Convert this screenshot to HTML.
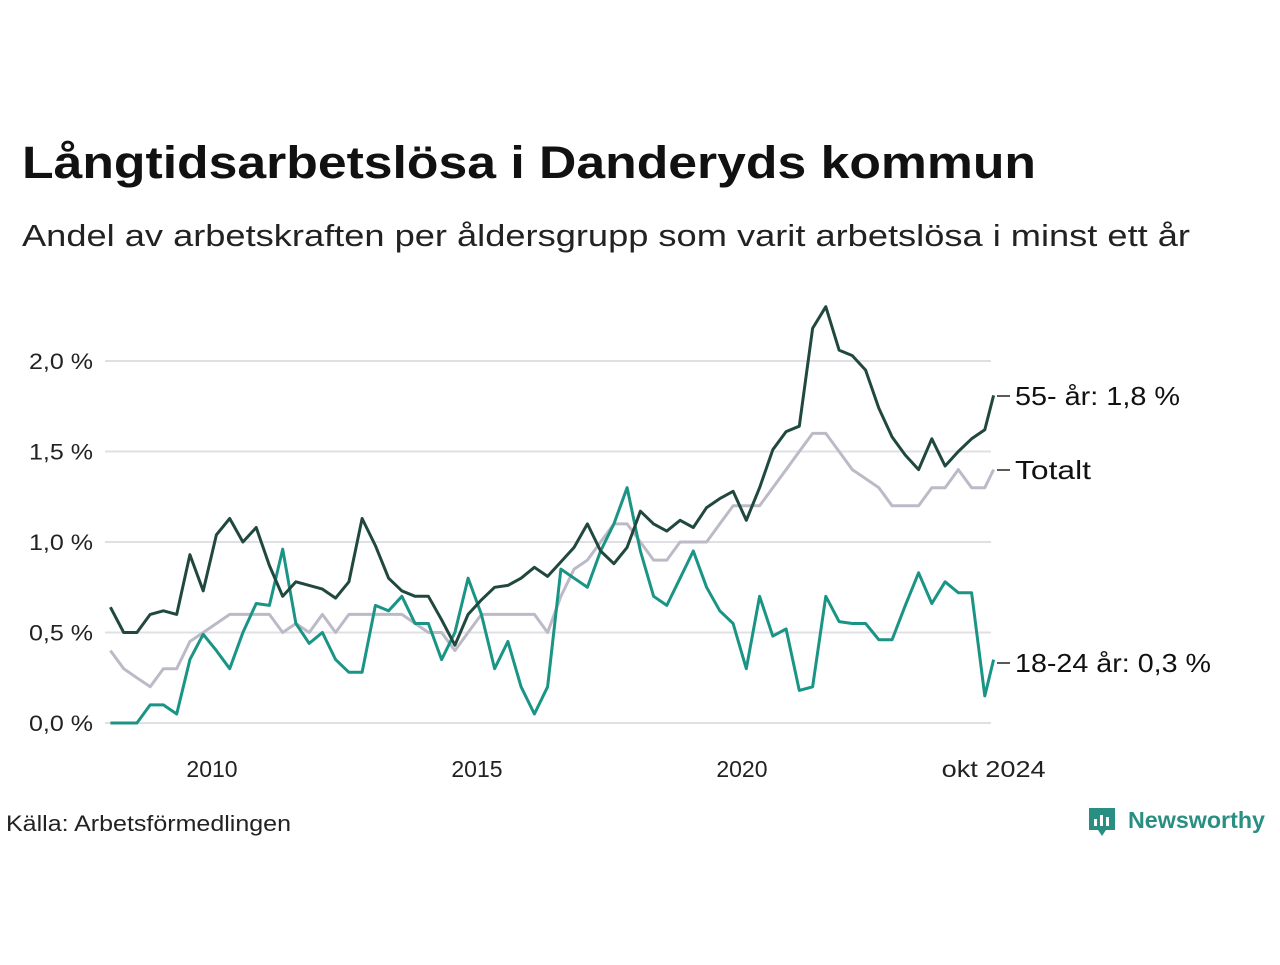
<!DOCTYPE html>
<html><head><meta charset="utf-8"><style>
body{margin:0;background:#fff;width:1280px;height:960px;overflow:hidden}
svg text{font-family:"Liberation Sans","DejaVu Sans",sans-serif}
</style></head><body>
<svg width="1280" height="960" xmlns="http://www.w3.org/2000/svg">
<text x="22" y="178" font-size="45" font-weight="bold" fill="#111" textLength="1014" lengthAdjust="spacingAndGlyphs">Långtidsarbetslösa i Danderyds kommun</text>
<text x="22" y="246" font-size="31" fill="#222" textLength="1168" lengthAdjust="spacingAndGlyphs">Andel av arbetskraften per åldersgrupp som varit arbetslösa i minst ett år</text>
<g id="grid"></g><g id="series"></g><g id="labels"></g>
<text x="6" y="831" font-size="22" fill="#222" textLength="285" lengthAdjust="spacingAndGlyphs">Källa: Arbetsförmedlingen</text>
<g>
<path d="M1089 808h26v22h-9l-4 6-4-6h-9z" fill="#2a8f83"/>
<rect x="1094" y="819" width="3" height="7" fill="#fff"/><rect x="1100" y="815" width="3" height="11" fill="#fff"/><rect x="1106" y="817" width="3" height="9" fill="#fff"/>
<text x="1128" y="828" font-size="23" font-weight="bold" fill="#2a8f83" textLength="137" lengthAdjust="spacingAndGlyphs">Newsworthy</text>
</g>
</svg>
<script>
const dates=["2008-02","2008-05","2008-08","2008-11","2009-02","2009-05","2009-08","2009-11","2010-02","2010-05","2010-08","2010-11","2011-02","2011-05","2011-08","2011-11","2012-02","2012-05","2012-08","2012-11","2013-02","2013-05","2013-08","2013-11","2014-02","2014-05","2014-08","2014-11","2015-02","2015-05","2015-08","2015-11","2016-02","2016-05","2016-08","2016-11","2017-02","2017-05","2017-08","2017-11","2018-02","2018-05","2018-08","2018-11","2019-02","2019-05","2019-08","2019-11","2020-02","2020-05","2020-08","2020-11","2021-02","2021-05","2021-08","2021-11","2022-02","2022-05","2022-08","2022-11","2023-02","2023-05","2023-08","2023-11","2024-02","2024-05","2024-08","2024-10"];
const old55=[0.64,0.50,0.50,0.60,0.62,0.60,0.93,0.73,1.04,1.13,1.00,1.08,0.87,0.70,0.78,0.76,0.74,0.69,0.78,1.13,0.98,0.80,0.73,0.70,0.70,0.57,0.43,0.60,0.68,0.75,0.76,0.80,0.86,0.81,0.89,0.97,1.10,0.95,0.88,0.97,1.17,1.10,1.06,1.12,1.08,1.19,1.24,1.28,1.12,1.30,1.51,1.61,1.64,2.18,2.30,2.06,2.03,1.95,1.74,1.58,1.48,1.40,1.57,1.42,1.50,1.57,1.62,1.81];
const total=[0.40,0.30,0.25,0.20,0.30,0.30,0.45,0.50,0.55,0.60,0.60,0.60,0.60,0.50,0.55,0.50,0.60,0.50,0.60,0.60,0.60,0.60,0.60,0.55,0.50,0.50,0.40,0.50,0.60,0.60,0.60,0.60,0.60,0.50,0.70,0.85,0.90,1.00,1.10,1.10,1.00,0.90,0.90,1.00,1.00,1.00,1.10,1.20,1.20,1.20,1.30,1.40,1.50,1.60,1.60,1.50,1.40,1.35,1.30,1.20,1.20,1.20,1.30,1.30,1.40,1.30,1.30,1.40];
const young=[0.0,0.0,0.0,0.10,0.10,0.05,0.35,0.49,0.40,0.30,0.50,0.66,0.65,0.96,0.55,0.44,0.50,0.35,0.28,0.28,0.65,0.62,0.70,0.55,0.55,0.35,0.50,0.80,0.60,0.30,0.45,0.20,0.05,0.20,0.85,0.80,0.75,0.95,1.10,1.30,0.95,0.70,0.65,0.80,0.95,0.75,0.62,0.55,0.30,0.70,0.48,0.52,0.18,0.20,0.70,0.56,0.55,0.55,0.46,0.46,0.65,0.83,0.66,0.78,0.72,0.72,0.15,0.35];
const yTicks=[0,0.5,1,1.5,2];
const yTickLabels=["0,0 %","0,5 %","1,0 %","1,5 %","2,0 %"];
const xTicks=["2010-01","2015-01","2020-01","2024-10"];
const xTickLabels=["2010","2015","2020","okt 2024"];
const seriesLabels=["55- år: 1,8 %","Totalt","18-24 år: 0,3 %"];
const NS="http://www.w3.org/2000/svg";
function mIdx(d){const [y,m]=d.split("-").map(Number);return y*12+m-1;}
const x0=mIdx("2010-01");
function X(d){return 212+(mIdx(d)-x0)*4.416;}
function Y(v){return 723-v*181;}
function el(t,a,p){const e=document.createElementNS(NS,t);for(const k in a)e.setAttribute(k,a[k]);p.appendChild(e);return e;}
const grid=document.getElementById("grid");
yTicks.forEach((v,i)=>{
 const l=el("line",{x1:105,x2:991,y1:Y(v),y2:Y(v),stroke:"#e0dfe4","stroke-width":2},grid);
 
 
 const t=el("text",{x:93,y:Y(v)+8,"font-size":22,"text-anchor":"end",fill:"#222",textLength:64,lengthAdjust:"spacingAndGlyphs"},grid);
 t.textContent=yTickLabels[i];
 
 
});
xTicks.forEach((d,i)=>{
 const t=el("text",{x:X(d),y:777,"font-size":23,"text-anchor":"middle",fill:"#222"},grid);
 t.textContent=xTickLabels[i];
 if(i===3){t.setAttribute("textLength",104);t.setAttribute("lengthAdjust","spacingAndGlyphs");}
 
 
});
const S=document.getElementById("series");
function line(vals,color,name){
 const p=el("polyline",{points:vals.map((v,i)=>X(dates[i]).toFixed(1)+","+Y(v).toFixed(1)).join(" "),fill:"none",stroke:color,"stroke-width":3,"stroke-linejoin":"round"},S);
 
 
}
line(total,"#bdbac8","line-total");
line(young,"#1a9485","line-18-24");
line(old55,"#21483f","line-55-plus");
const L=document.getElementById("labels");
const labelW=[165,76,196];
[396,470,663].forEach((ly,i)=>{
 const tk=el("line",{x1:997,x2:1010,y1:ly,y2:ly,stroke:"#222","stroke-width":1.5},L);
 
 
 const t=el("text",{x:1015,y:ly+9,"font-size":26,fill:"#111",textLength:labelW[i],lengthAdjust:"spacingAndGlyphs"},L);
 t.textContent=seriesLabels[i];
 
 
});
</script>
</body></html>
